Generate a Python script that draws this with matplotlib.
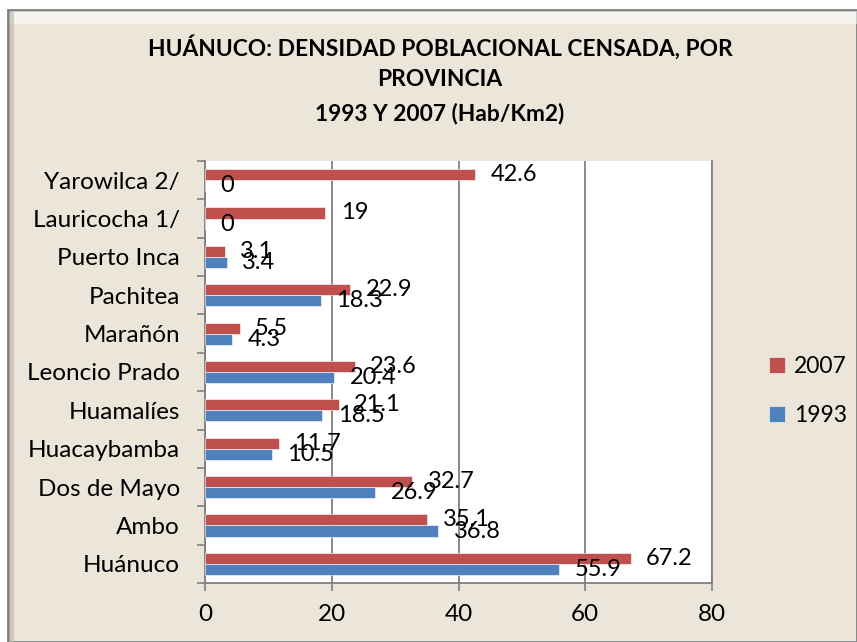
import numpy as np
import matplotlib.pyplot as plt
from matplotlib.patches import Rectangle

plt.rcParams['font.family'] = ['Lato', 'DejaVu Sans']

# Datos (de abajo hacia arriba, como en el grafico)
provincias = ['Huánuco', 'Ambo', 'Dos de Mayo', 'Huacaybamba', 'Huamalíes',
              'Leoncio Prado', 'Marañón', 'Pachitea', 'Puerto Inca',
              'Lauricocha 1/', 'Yarowilca 2/']
dens_1993 = [55.9, 36.8, 26.9, 10.5, 18.5, 20.4, 4.3, 18.3, 3.4, 0, 0]
dens_2007 = [67.2, 35.1, 32.7, 11.7, 21.1, 23.6, 5.5, 22.9, 3.1, 19, 42.6]
x_ticks = [0, 20, 40, 60, 80]

red = '#C0504D'
blue = '#4F81BD'
grid_col = '#808080'
bg = '#ECE6DA'

W, H = 857, 642
fig = plt.figure(figsize=(W / 100, H / 100), dpi=100, facecolor='white')

# fondo tipo pergamino con borde biselado
fig.patches.append(Rectangle((8 / W, 0), 1 - 8 / W, 1 - 10 / H, transform=fig.transFigure,
                             facecolor=bg, edgecolor='#7f7f7f', linewidth=2, zorder=-10))
fig.patches.append(Rectangle((10 / W, 1 - 24 / H), 1 - 10 / W, 13 / H, transform=fig.transFigure,
                             facecolor='white', alpha=0.55, edgecolor='none', zorder=-9))
fig.patches.append(Rectangle((9 / W, 0), 5 / W, 1 - 11 / H, transform=fig.transFigure,
                             facecolor='#b9b3a8', alpha=0.6, edgecolor='none', zorder=-9))

ax = fig.add_axes([205 / W, 1 - 583 / H, (712 - 205) / W, (583 - 161) / H])
ax.set_zorder(1)
ax.set_facecolor('white')

y = np.arange(len(provincias))
h = 0.29
b07 = ax.barh(y + h / 2, dens_2007, height=h, color=red, edgecolor='white', linewidth=0.4,
              label='2007', zorder=3)
b93 = ax.barh(y - h / 2, dens_1993, height=h, color=blue, edgecolor='white', linewidth=0.4,
              label='1993', zorder=3)

for bars, vals in ((b07, dens_2007), (b93, dens_1993)):
    for rect, v in zip(bars, vals):
        ax.annotate(f'{v:g}', (rect.get_width(), rect.get_y() + rect.get_height() / 2),
                    xytext=(11, 0), textcoords='offset points', ha='left', va='center',
                    fontsize=17, color='black', zorder=4)

ax.set_xlim(0, 80)
ax.set_ylim(-0.5, len(provincias) - 0.5)
ax.set_xticks(x_ticks)
ax.set_xticklabels([str(t) for t in x_ticks], fontsize=17.5)
ax.set_yticks(np.arange(len(provincias) + 1) - 0.5, minor=False)
ax.set_yticklabels([])
ax.set_yticks(y, minor=True)
ax.set_yticklabels(provincias, minor=True, fontsize=17.5)
ax.tick_params(axis='y', which='minor', length=0, pad=18)
ax.tick_params(axis='y', which='major', length=6, width=1.2, color=grid_col)
ax.tick_params(axis='x', length=6, width=1.2, color=grid_col, pad=9)

ax.grid(axis='x', color=grid_col, linewidth=1.3, zorder=1)
for side in ('left', 'bottom', 'right'):
    ax.spines[side].set_color(grid_col)
    ax.spines[side].set_linewidth(1.3)
ax.spines['top'].set_visible(False)

leg = fig.legend(handles=[b07, b93], labels=['2007', '1993'], loc='center left',
                 bbox_to_anchor=(748 / W, 1 - 391 / H), frameon=False, fontsize=16.5,
                 handlelength=0.7, handleheight=0.7, handletextpad=0.4, labelspacing=1.25)
leg.set_zorder(2)

tkw = dict(ha='center', va='center', fontsize=16.4, fontweight='bold')
fig.text(440 / W, 1 - 47 / H, 'HUÁNUCO: DENSIDAD POBLACIONAL CENSADA, POR', **tkw)
fig.text(440 / W, 1 - 80 / H, 'PROVINCIA', **tkw)
fig.text(440 / W, 1 - 114 / H, '1993 Y 2007 (Hab/Km2)', **tkw)

fig.savefig('out.png', dpi=100, facecolor=fig.get_facecolor())
